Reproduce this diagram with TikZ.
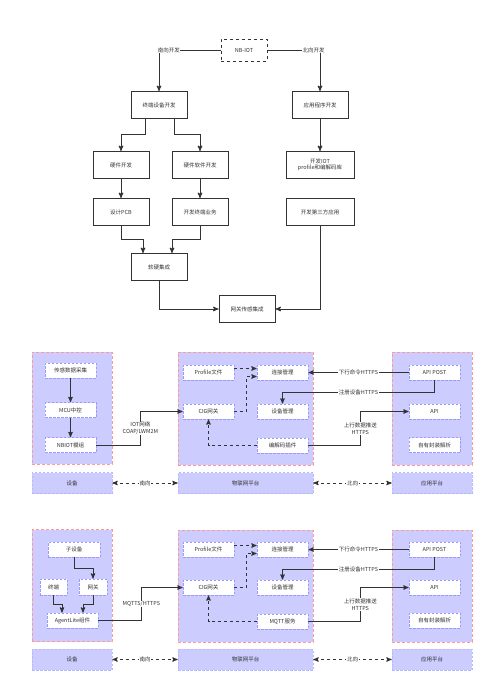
\documentclass[tikz,border=0pt]{standalone}
\usepackage{fontspec}
\setmainfont{Noto Sans CJK SC}
\usepackage{tikz}
\usetikzlibrary{arrows,positioning,calc}
\definecolor{zonefill}{HTML}{CCCCFF}
\definecolor{zoneline}{HTML}{FF9999}
\definecolor{modline}{HTML}{9999FF}
\definecolor{barline}{HTML}{B8B8FF}
\definecolor{ink}{HTML}{333333}
\tikzset{
  box/.style={draw,fill=white,minimum width=56pt,minimum height=27pt,inner sep=1pt,align=center},
  zone/.style={draw=zoneline,fill=zonefill,dash pattern=on 3pt off 2pt,line width=0.7pt},
  modbox/.style={draw=modline,fill=white,dash pattern=on 2.5pt off 1.5pt,line width=0.7pt,minimum width=51pt,minimum height=15pt,inner sep=1pt},
  platbar/.style={draw=barline,fill=zonefill,dash pattern=on 2.5pt off 1.5pt,line width=0.6pt,minimum height=21pt},
  lbl/.style={fill=white,inner sep=0.6pt,align=center},
}

\begin{document}
\begin{tikzpicture}[->,>=stealth', x=1pt, y=-1pt, line width=0.95pt, color=ink,
    font=\fontsize{5.5}{6.6}\selectfont]
	\useasboundingbox (0,0) rectangle (500,698);
	% development flow
	\node [box,dashed,minimum width=46pt,minimum height=22pt] (nbiot) at (244,50) {NB-IOT};
	\node [box] (zdkf) at (159,105) {终端设备开发};
	\node [box] (yykf) at (320,105) {应用程序开发};
	\node [box] (yjkf) at (121,165) {硬件开发};
	\node [box] (rjkf) at (200,165) {硬件软件开发};
	\node [box,minimum width=68pt] (bjmk) at (320,165) {开发IOT\\profile和编解码库};
	\node [box] (pcb) at (121,212) {设计PCB};
	\node [box] (zdyw) at (200,212) {开发终端业务};
	\node [box,minimum width=68pt] (dsf) at (320,212) {开发第三方应用};
	\node [box] (rhjc) at (159,267) {软硬集成};
	\node [box] (wgjc) at (247,309) {网关传感集成};
	\draw (nbiot.west) -| (zdkf.north) node [lbl,pos=0.42] {南向开发};
	\draw (nbiot.east) -| (yykf.north) node [lbl,pos=0.44] {北向开发};
	\draw ([xshift=-14pt]zdkf.south) -- ++(0,15) -| (yjkf.north);
	\draw ([xshift=15pt]zdkf.south) -- ++(0,15) -| (rjkf.north);
	\path (yjkf) edge (pcb);
	\path (rjkf) edge (zdyw);
	\path (yykf) edge (bjmk);
	\draw (pcb.south) -- ++(0,13.5) -| ([xshift=-16pt]rhjc.north);
	\draw (zdyw.south) -- ++(0,13.5) -| ([xshift=13pt]rhjc.north);
	\draw (rhjc.south) |- (wgjc.west);
	\draw (dsf.south) |- (wgjc.east);

	% NB-IoT access
	\node [zone,minimum width=80pt,minimum height=112pt] (dev1) at (72,408) {};
	\node [zone,minimum width=135pt,minimum height=113pt] (plat1) at (245.5,408.5) {};
	\node [zone,minimum width=80pt,minimum height=113pt] (app1) at (432,408.5) {};
	\node [platbar,minimum width=80pt] (devbar1) at (72,483) {设备};
	\node [platbar,minimum width=135pt] (platbar1) at (245.5,483) {物联网平台};
	\node [platbar,minimum width=80pt] (appbar1) at (432,483) {应用平台};
	\node [modbox] (cgcj) at (70.5,370.5) {传感数据采集};
	\node [modbox] (mcu) at (70.5,410) {MCU中控};
	\node [modbox] (nbmz) at (70.5,445) {NBIOT模组};
	\node [modbox] (pf1) at (208.5,372.5) {Profile文件};
	\node [modbox] (ljgl1) at (282.5,372.5) {连接管理};
	\node [modbox] (cig1) at (208.5,411.5) {CIG网关};
	\node [modbox] (sbgl1) at (282.5,411.5) {设备管理};
	\node [modbox] (bjcj) at (282.5,445.5) {编解码插件};
	\node [modbox] (post1) at (434.5,372.5) {API POST};
	\node [modbox] (api1) at (434.5,411.5) {API};
	\node [modbox] (zyjx1) at (434.5,445) {自有封装解析};
	\path (cgcj) edge (mcu);
	\path (mcu) edge (nbmz);
	\draw (nbmz.east) -- ++(44,0) |- (cig1.west) node [lbl,pos=0.25] {IOT网络\\COAP/LWM2M};
	\draw [dashed] ([yshift=4pt]pf1.east) -- ([yshift=4pt]ljgl1.west);
	\draw [dashed] (cig1.east) -- ++(12,0) |- ([yshift=-4pt]ljgl1.west);
	\draw [dashed] (bjcj.west) -| (cig1.south);
	\draw (post1.west) -- (ljgl1.east) node [lbl,midway] {下行命令HTTPS};
	\draw (post1.south) -- ++(0,12) -| (sbgl1.north) node [lbl,pos=0.25] {注册设备HTTPS};
	\draw (bjcj.east) -- ++(52,0) |- (api1.west) node [lbl,pos=0.25] {上行数据推送\\HTTPS};
	\draw [<->,dashed] (devbar1) -- (platbar1) node [lbl,midway] {南向};
	\draw [<->,dashed] (platbar1) -- (appbar1) node [lbl,midway] {北向};

	% AgentLite access
	\node [zone,minimum width=80pt,minimum height=112pt] (dev2) at (72,585.5) {};
	\node [zone,minimum width=135pt,minimum height=112pt] (plat2) at (245.5,586) {};
	\node [zone,minimum width=80pt,minimum height=112pt] (app2) at (432,586) {};
	\node [platbar,minimum width=80pt] (devbar2) at (72,659.5) {设备};
	\node [platbar,minimum width=135pt] (platbar2) at (245.5,659.5) {物联网平台};
	\node [platbar,minimum width=80pt] (appbar2) at (432,659.5) {应用平台};
	\node [modbox,minimum width=52pt] (zsb) at (74,549.5) {子设备};
	\node [modbox,minimum width=27pt,minimum height=16pt] (zd) at (53.5,587) {终端};
	\node [modbox,minimum width=28pt,minimum height=16pt] (wg) at (93,587) {网关};
	\node [modbox] (agent) at (72.5,620.5) {AgentLite组件};
	\node [modbox] (pf2) at (208.5,549.5) {Profile文件};
	\node [modbox] (ljgl2) at (282.5,549.5) {连接管理};
	\node [modbox] (cig2) at (208.5,587.5) {CIG网关};
	\node [modbox] (sbgl2) at (282.5,587.5) {设备管理};
	\node [modbox] (mqtt) at (282.5,621.5) {MQTT服务};
	\node [modbox] (post2) at (434.5,549.5) {API POST};
	\node [modbox] (api2) at (434.5,587.5) {API};
	\node [modbox] (zyjx2) at (434.5,620.5) {自有封装解析};
	\draw (zsb.south) -- ++(0,11) -| (wg.north);
	\draw (zd.south) -- ++(0,9) -| ([xshift=-10.5pt]agent.north);
	\draw (wg.south) -- ++(0,9) -| ([xshift=10.5pt]agent.north);
	\draw (agent.east) -- ++(43,0) |- (cig2.west) node [lbl,pos=0.25] {MQTTS/HTTPS};
	\draw [dashed] ([yshift=4pt]pf2.east) -- ([yshift=4pt]ljgl2.west);
	\draw [dashed] (cig2.east) -- ++(12,0) |- ([yshift=-4pt]ljgl2.west);
	\draw [dashed] (mqtt.west) -| (cig2.south);
	\draw (post2.west) -- (ljgl2.east) node [lbl,midway] {下行命令HTTPS};
	\draw (post2.south) -- ++(0,12) -| (sbgl2.north) node [lbl,pos=0.25] {注册设备HTTPS};
	\draw (mqtt.east) -- ++(52,0) |- (api2.west) node [lbl,pos=0.25] {上行数据推送\\HTTPS};
	\draw [<->,dashed] (devbar2) -- (platbar2) node [lbl,midway] {南向};
	\draw [<->,dashed] (platbar2) -- (appbar2) node [lbl,midway] {北向};
\end{tikzpicture}
\end{document}
